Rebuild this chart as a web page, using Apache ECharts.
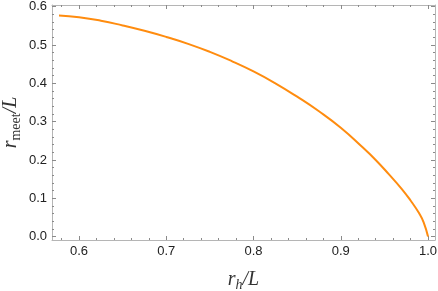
<!DOCTYPE html>
<html>
<head>
<meta charset="utf-8">
<script src="https://cdn.jsdelivr.net/npm/echarts@6/dist/echarts.min.js"></script>
<style>html,body{margin:0;padding:0;background:#fff;}#c{width:438px;height:291px;}</style>
</head>
<body>
<div id="c"></div>
<script>
const rhValues    = [0.577, 0.600, 0.625, 0.650, 0.675, 0.700, 0.725, 0.750, 0.775, 0.800, 0.825, 0.850, 0.875, 0.900, 0.925, 0.940, 0.955, 0.970, 0.980, 0.990, 0.995, 1.000];
const rMeetValues = [0.577, 0.5725, 0.5635, 0.551, 0.537, 0.521, 0.503, 0.482, 0.458, 0.431, 0.400, 0.365, 0.327, 0.284, 0.233, 0.200, 0.163, 0.124, 0.094, 0.060, 0.037, 0.000];
const xMajorTicks = [0.6, 0.7, 0.8, 0.9, 1.0];
const xMinorTicks = [0.58, 0.62, 0.64, 0.66, 0.68, 0.72, 0.74, 0.76, 0.78, 0.82, 0.84, 0.86, 0.88, 0.92, 0.94, 0.96, 0.98];
const yMajorTicks = [0.0, 0.1, 0.2, 0.3, 0.4, 0.5, 0.6];
const yMinorTicks = [0.02, 0.04, 0.06, 0.08, 0.12, 0.14, 0.16, 0.18, 0.22, 0.24, 0.26, 0.28, 0.32, 0.34, 0.36, 0.38, 0.42, 0.44, 0.46, 0.48, 0.52, 0.54, 0.56, 0.58];

const X_MIN = 0.569, X_MAX = 1.008, Y_MIN = -0.009, Y_MAX = 0.6044;
const frameColor = '#b5b5b5', tickColor = '#8a8a8a';
const serif = '"Liberation Serif","DejaVu Serif",serif';
const sans = '"Liberation Sans",Arial,sans-serif';

function mkAxis(kind, pos, major, ticks, withLabels) {
  const isX = kind === 'x';
  return {
    type: 'value', position: pos, gridIndex: 0,
    min: isX ? X_MIN : Y_MIN, max: isX ? X_MAX : Y_MAX,
    splitLine: {show: false},
    axisLine: {show: major, onZero: false, lineStyle: {color: frameColor, width: 1}},
    axisTick: {show: true, inside: true, length: major ? 4 : 2, customValues: ticks, lineStyle: {color: tickColor, width: 1}},
    axisLabel: {show: withLabels, customValues: ticks, formatter: v => v.toFixed(1), color: '#222', fontSize: 13, fontFamily: sans, margin: 5},
    minorTick: {show: false}
  };
}

const titleRich = (subItalic) => ({
  i: {fontFamily: serif, fontStyle: 'italic', fontSize: 20, color: '#333', lineHeight: 24, verticalAlign: 'middle'},
  s: {fontFamily: serif, fontStyle: subItalic ? 'italic' : 'normal', fontSize: 14, color: '#333', lineHeight: 14, verticalAlign: 'bottom'}
});

const xAxes = [
  Object.assign(mkAxis('x', 'bottom', true, xMajorTicks, true), {
    name: '{i|r}{s|h}{i|/L}', nameLocation: 'middle', nameGap: 28,
    nameTextStyle: {rich: titleRich(true)}
  }),
  mkAxis('x', 'bottom', false, xMinorTicks, false),
  mkAxis('x', 'top', true, xMajorTicks, false),
  mkAxis('x', 'top', false, xMinorTicks, false)
];
const yAxes = [
  Object.assign(mkAxis('y', 'left', true, yMajorTicks, true), {
    name: '{i|r}{s|meet}{i|/L}', nameLocation: 'middle', nameGap: 29, nameMoveOverlap: false,
    nameTextStyle: {rich: titleRich(false)}
  }),
  mkAxis('y', 'left', false, yMinorTicks, false),
  mkAxis('y', 'right', true, yMajorTicks, false),
  mkAxis('y', 'right', false, yMinorTicks, false)
];

const chart = echarts.init(document.getElementById('c'), null, {renderer: 'canvas'});
chart.setOption({
  animation: false,
  backgroundColor: '#fff',
  grid: {left: 52, right: 3, top: 5, bottom: 51, containLabel: false, outerBoundsMode: 'none'},
  xAxis: xAxes,
  yAxis: yAxes,
  series: [{
    type: 'line', xAxisIndex: 0, yAxisIndex: 0,
    data: rhValues.map((x, i) => [x, rMeetValues[i]]),
    showSymbol: false, smooth: 0.5,
    lineStyle: {color: '#ff8c0f', width: 2},
    clip: false
  }]
});
</script>
</body>
</html>
